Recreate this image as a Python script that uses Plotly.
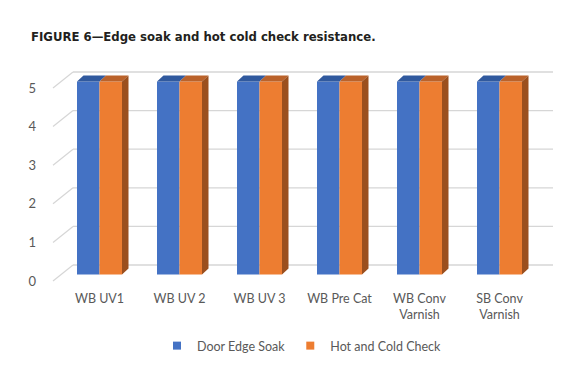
import plotly.graph_objects as go

# ---------------- data ----------------
categories = ["WB UV1", "WB UV 2", "WB UV 3", "WB Pre Cat", "WB Conv<br>Varnish", "SB Conv<br>Varnish"]
door_edge_soak = [5, 5, 5, 5, 5, 5]
hot_cold_check = [5, 5, 5, 5, 5, 5]
y_ticks = [0, 1, 2, 3, 4, 5]
series_names = ["Door Edge Soak", "Hot and Cold Check"]

# ---------------- styling ----------------
BLUE, ORANGE = "#4472C4", "#ED7D31"
BLUE_TOP, ORANGE_TOP, ORANGE_SIDE = "#30599E", "#BA622A", "#9B4F1E"
GRID = "#D6D6D6"
TXT = "#595959"
FONT = "Lato, Open Sans, sans-serif"

OFF = 8                               # page body margin
W, H = 574 - OFF, 371 - OFF
# pixel geometry of the pseudo-3D frame (figure coords)
CAT_PX0, CAT_STEP = 99.5 - OFF, 80.0
Y0_PX, Y_STEP = 274.5 - OFF, 38.6
L, R, T, B = 37 - OFF, 2, 45 - OFF, 289 - OFF

BAR_W = 22.5 / CAT_STEP
DX, DY = 6.5 / CAT_STEP, 6.0 / Y_STEP
BACK_DY = 9.5 / Y_STEP
FRONT_DY = -6.5 / Y_STEP
BACK_X0, BACK_X1 = (73 - OFF - CAT_PX0) / CAT_STEP, (553 - OFF - CAT_PX0) / CAT_STEP
FRONT_X0 = (53 - OFF - CAT_PX0) / CAT_STEP

x_range = [(L - CAT_PX0) / CAT_STEP, (W - R - CAT_PX0) / CAT_STEP]
y_range = [(Y0_PX - B) / Y_STEP, (Y0_PX - T) / Y_STEP]

def paper_y(px):
    return (B - (px - OFF)) / (B - T)

def paper_x(px):
    return ((px - OFF) - L) / (W - L - R)

xs = list(range(len(categories)))

fig = go.Figure()

fig.add_trace(go.Bar(x=xs, y=door_edge_soak, name=series_names[0], marker_color=BLUE,
                     marker_line_width=0, offset=-BAR_W, width=BAR_W, showlegend=False))
fig.add_trace(go.Bar(x=xs, y=hot_cold_check, name=series_names[1], marker_color=ORANGE,
                     marker_line_width=0, offset=0, width=BAR_W, showlegend=False))

def top_poly(x_left, x_right, v):
    return [x_left, x_left + DX, x_right + DX, x_right, x_left, None], [v, v + DY, v + DY, v, v, None]

bx, by, ox, oy, sx, sy = [], [], [], [], [], []
for i, (a, b) in zip(xs, zip(door_edge_soak, hot_cold_check)):
    px, py = top_poly(i - BAR_W, i, a)
    bx += px; by += py
    px, py = top_poly(i, i + BAR_W, b)
    ox += px; oy += py
    xr = i + BAR_W
    sx += [xr, xr + DX, xr + DX, xr, xr, None]
    sy += [0, DY, b + DY, b, 0, None]

for px, py, col in [(bx, by, BLUE_TOP), (ox, oy, ORANGE_TOP), (sx, sy, ORANGE_SIDE)]:
    fig.add_trace(go.Scatter(x=px, y=py, mode="lines", fill="toself", fillcolor=col,
                             line=dict(width=0, color=col), hoverinfo="skip", showlegend=False))

for name, col in zip(series_names, [BLUE, ORANGE]):
    fig.add_trace(go.Scatter(x=[None], y=[None], mode="markers", name=name,
                             marker=dict(symbol="square", size=8, color=col)))

shapes = []
for k in y_ticks:
    shapes.append(dict(type="line", xref="x", yref="y", layer="below",
                       x0=BACK_X0, x1=BACK_X1, y0=k + BACK_DY, y1=k + BACK_DY,
                       line=dict(color=GRID, width=1.3)))
    shapes.append(dict(type="line", xref="x", yref="y", layer="below",
                       x0=FRONT_X0, x1=BACK_X0, y0=k + FRONT_DY, y1=k + BACK_DY,
                       line=dict(color=GRID, width=1.3)))

fig.update_layout(
    width=W, height=H,
    margin=dict(l=L, r=R, t=T, b=H - B, pad=0),
    paper_bgcolor="white", plot_bgcolor="white",
    barmode="overlay",
    shapes=shapes,
    font=dict(family=FONT, color=TXT, size=12.5),
    xaxis=dict(range=x_range, tickvals=xs, ticktext=categories, showgrid=False,
               zeroline=False, showline=False, ticks="", tickfont=dict(size=12.5, color=TXT)),
    yaxis=dict(range=y_range, tickvals=[k + FRONT_DY for k in y_ticks],
               ticktext=[str(k) for k in y_ticks], showgrid=False, zeroline=False,
               showline=False, ticks="", tickfont=dict(size=13, color=TXT)),
    legend=dict(orientation="h", x=paper_x(302), xanchor="center", y=paper_y(346), yanchor="middle",
                font=dict(size=12.5, color=TXT), bgcolor="rgba(0,0,0,0)", itemwidth=30),
    annotations=[dict(text="<b>FIGURE 6—Edge soak and hot cold check resistance.</b>",
                      xref="paper", yref="paper", x=paper_x(29), y=paper_y(37),
                      xanchor="left", yanchor="middle", showarrow=False,
                      font=dict(family="DejaVu Sans Condensed, Liberation Sans Narrow, sans-serif",
                                size=13, color="#231F20"))],
)

fig.write_html("out.html")
